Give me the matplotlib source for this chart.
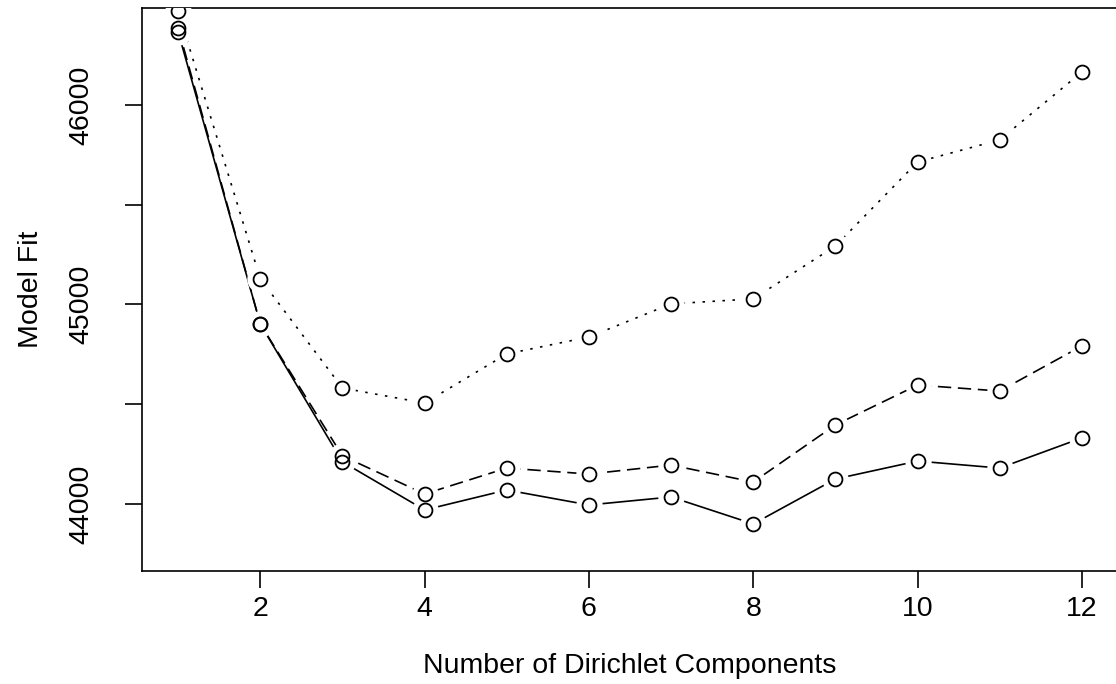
"""
Model fit against number of Dirichlet components.
"""
import matplotlib.pyplot as plt

# number of components
components = [1, 2, 3, 4, 5, 6, 7, 8, 9, 10, 11, 12]

# model fit values, three runs (solid, dashed, dotted)
fit_solid = [46366, 44902, 44211, 43970, 44070, 43995, 44035, 43900, 44125, 44215, 44180, 44331]
fit_dashed = [46386, 44902, 44241, 44050, 44180, 44150, 44195, 44110, 44396, 44596, 44566, 44792]
fit_dotted = [46471, 45128, 44581, 44506, 44752, 44837, 45003, 45028, 45293, 45714, 45825, 46165]

x_ticks = [2, 4, 6, 8, 10, 12]
y_ticks = [44000, 44500, 45000, 45500, 46000]
y_labels = ["44000", "", "45000", "", "46000"]


def draw_plot():
    """ Draws the R-style type='b' plot and saves it. """
    plt.rcParams["font.family"] = ["Liberation Sans", "DejaVu Sans"]
    fig = plt.figure(figsize=(11.16, 6.84), dpi=100, facecolor="white")
    ax = fig.add_axes([142 / 1116, 1 - 571 / 684, 976 / 1116, 563 / 684])

    series = [(fit_solid, "-"), (fit_dashed, (0, (8, 4))), (fit_dotted, (0, (1.5, 4.5)))]

    # lines first
    for values, style in series:
        ax.plot(components, values, color="black", linestyle=style,
                linewidth=1.2, zorder=2)
    # white halo around every point gives R's gap between line and circle
    for values, _ in series:
        ax.plot(components, values, linestyle="none", marker="o", markersize=10,
                markerfacecolor="white", markeredgecolor="white",
                markeredgewidth=9, zorder=3)
    for values, _ in series:
        ax.plot(components, values, linestyle="none", marker="o", markersize=10,
                markerfacecolor="none", markeredgecolor="black",
                markeredgewidth=1.3, zorder=4)

    ax.set_xlim(0.56, 12.44)
    ax.set_ylim(43664, 46486)

    ax.set_xticks(x_ticks)
    ax.set_yticks(y_ticks)
    ax.set_yticklabels(y_labels, rotation=90, va="center")
    ax.tick_params(axis="both", direction="out", length=12, width=1.2,
                   labelsize=20.5, colors="black")
    ax.tick_params(axis="x", pad=6)
    ax.tick_params(axis="y", pad=22)

    for spine in ax.spines.values():
        spine.set_linewidth(1.2)

    ax.set_xlabel("Number of Dirichlet Components", fontsize=20.5, labelpad=22)
    ax.set_ylabel("Model Fit", fontsize=20.5, labelpad=18)

    fig.savefig("out.png", dpi=100)
    plt.close(fig)


if __name__ == "__main__":
    draw_plot()
